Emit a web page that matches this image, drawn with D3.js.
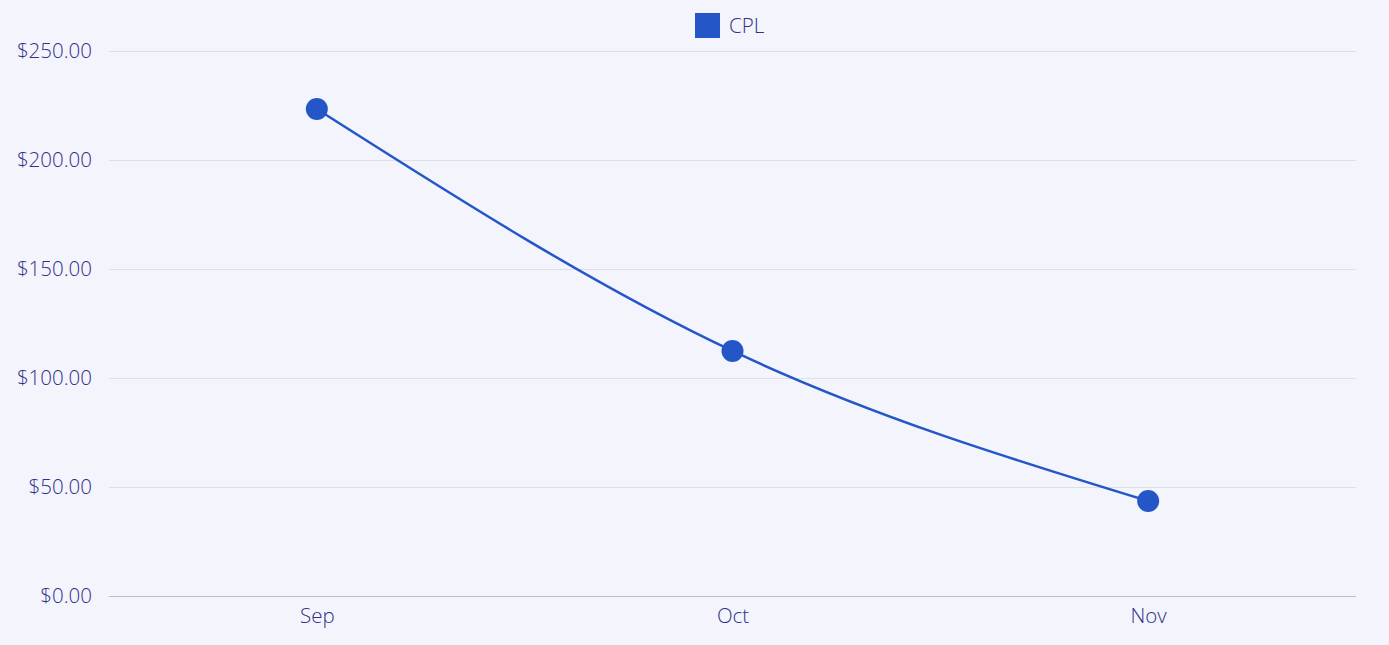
<!DOCTYPE html>
<html><head><meta charset="utf-8">
<script src="https://cdn.jsdelivr.net/npm/d3@7"></script>
<style>
html,body{margin:0;padding:0;background:#f3f4fc;}
svg{display:block;font-family:"Open Sans",sans-serif;font-weight:300;}
</style></head><body>
<svg id="c" width="1389" height="645"></svg>
<script>
const categories = ["Sep","Oct","Nov"];
const cplValues = [223.4, 112.4, 43.6];
const yTicks = [0,50,100,150,200,250];
const seriesName = "CPL";

const W=1389,H=645, m={l:109,r:33,t:51,b:49};
const svg=d3.select("#c");
svg.append("rect").attr("width",W).attr("height",H).attr("fill","#f3f4fc");
const x=d3.scalePoint().domain(categories).range([m.l,W-m.r]).padding(0.5);
const y=d3.scaleLinear().domain([0,250]).range([H-m.b,m.t]);
const fmt=d=>"$"+d3.format(",.2f")(d);
const textCol="#30308a";
const fs=20.5;

const ya=svg.append("g").attr("transform",`translate(${m.l},0)`)
 .call(d3.axisLeft(y).tickValues(yTicks).tickSize(-(W-m.l-m.r)).tickPadding(17).tickFormat(fmt));
ya.select(".domain").remove();
ya.selectAll(".tick line").attr("stroke","#dcdfeb").attr("stroke-width",1);
ya.selectAll(".tick text").attr("fill",textCol).attr("font-size",fs).attr("font-family","Open Sans").attr("font-weight",300);

const xa=svg.append("g").attr("transform",`translate(0,${H-m.b})`)
 .call(d3.axisBottom(x).tickSize(0).tickPadding(12));
xa.select(".domain").attr("stroke","#b8bddb").attr("d",`M${m.l},0.5H${W-m.r}`);
xa.selectAll(".tick text").attr("fill",textCol).attr("font-size",fs).attr("font-family","Open Sans").attr("font-weight",300);

const line=d3.line().x((d,i)=>x(categories[i])).y(d=>y(d)).curve(d3.curveMonotoneX);
svg.append("path").datum(cplValues).attr("d",line).attr("fill","none").attr("stroke","#2556c8").attr("stroke-width",2.5);
svg.selectAll("circle.pt").data(cplValues).join("circle").attr("class","pt")
 .attr("cx",(d,i)=>x(categories[i])).attr("cy",d=>y(d)).attr("r",11).attr("fill","#2556c8");

const lg=svg.append("g").attr("transform","translate(695,13)");
lg.append("rect").attr("width",25).attr("height",25).attr("fill","#2556c8");
lg.append("text").attr("x",34).attr("y",20).text(seriesName).attr("fill",textCol).attr("font-size",fs).attr("font-family","Open Sans").attr("font-weight",300);
</script></body></html>
